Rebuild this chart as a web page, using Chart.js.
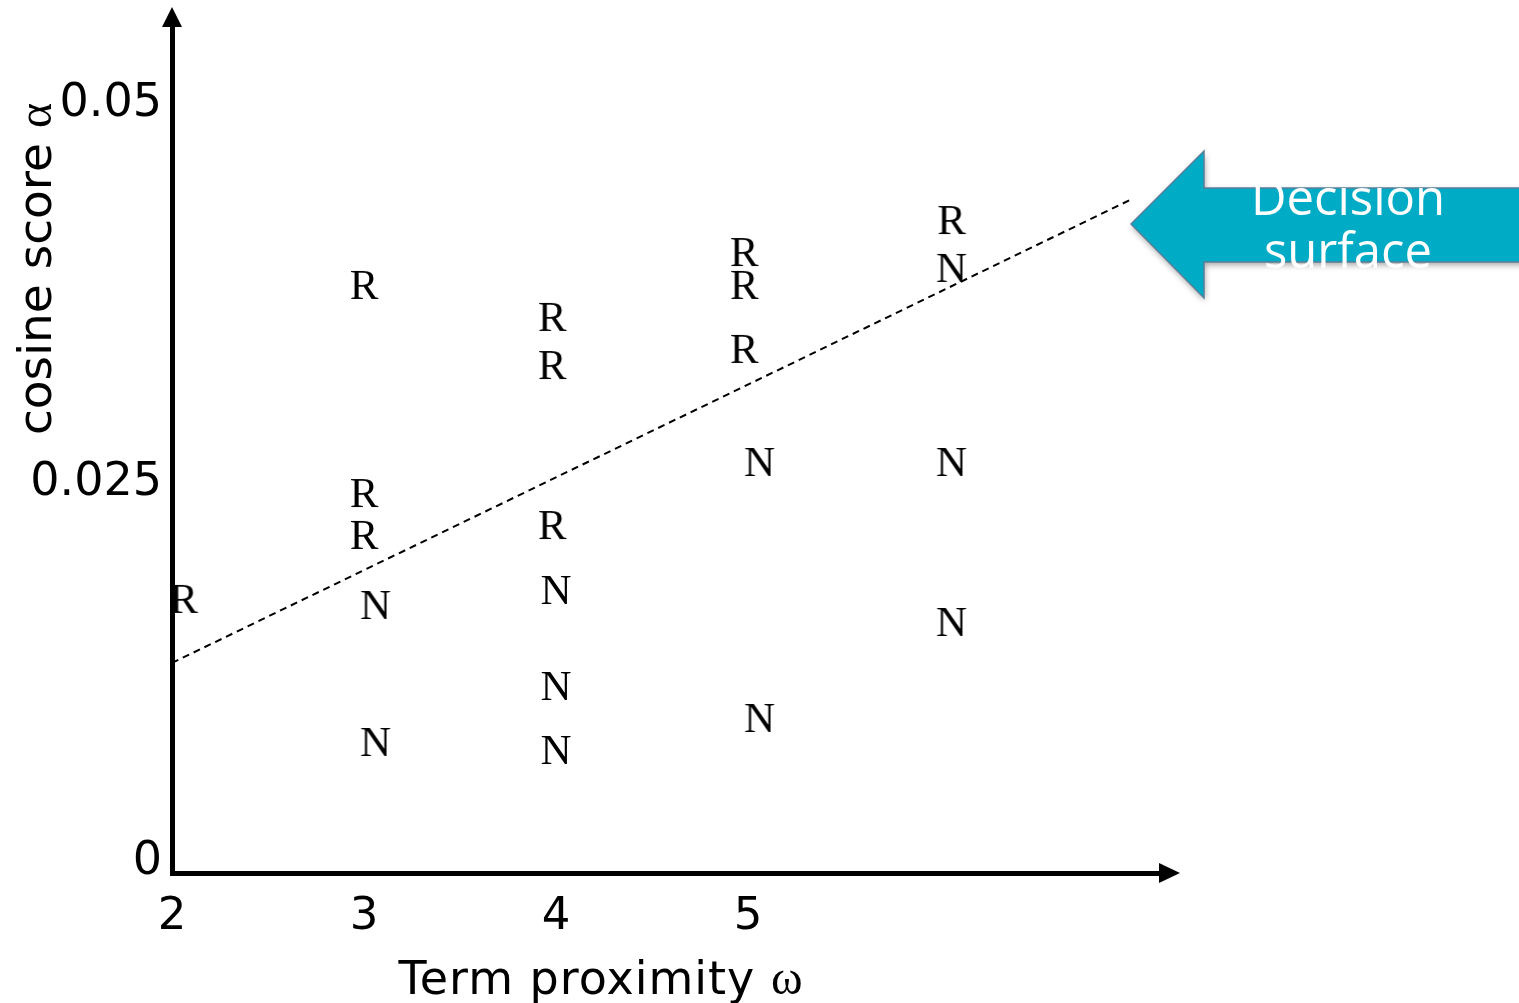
<!DOCTYPE html>
<html><head><meta charset="utf-8">
<script src="https://cdn.jsdelivr.net/npm/chart.js@4.4.0/dist/chart.umd.min.js"></script>
<style>html,body{margin:0;padding:0;background:#fff;overflow:hidden}#wrap{width:1519px;height:1003px}</style>
</head><body><div id="wrap"><canvas id="c" width="1519" height="1003"></canvas></div>
<script>
// ---- data ----
const xTickValues = [2, 3, 4, 5];
const yTickValues = [0, 0.025, 0.05];
const yTickLabels = ['0', '0.025', '0.05'];

const relevantX = [2.06, 3, 3, 3, 3.98, 3.98, 3.98, 4.98, 4.98, 4.98, 6.06];
const relevantY = [0.01737, 0.03807, 0.02435, 0.02159, 0.03596, 0.03279, 0.02224, 0.04024, 0.03807, 0.03385, 0.04235];

const nonRelevantX = [3.06, 3.06, 4.0, 4.0, 4.0, 5.06, 5.06, 6.06, 6.06, 6.06];
const nonRelevantY = [0.01697, 0.00794, 0.01796, 0.01163, 0.00741, 0.0264, 0.00952, 0.03919, 0.0264, 0.01585];

const surfaceX = [2, 6.99];
const surfaceY = [0.01315, 0.04367];

const xTitleText = 'Term proximity ';
const xTitleSymbol = 'ω';
const yTitleText = 'cosine score ';
const yTitleSymbol = 'α';
const calloutLines = ['Decision', 'surface'];

// ---- helpers ----
function zip(xs, ys) { return xs.map((x, i) => ({ x: x, y: ys[i] })); }

function letterImage(ch) {
  const s = 50;
  const c = document.createElement('canvas');
  c.width = s; c.height = s;
  const g = c.getContext('2d');
  g.font = '43px "Liberation Serif"';
  g.fillStyle = '#000';
  g.textAlign = 'center';
  g.textBaseline = 'alphabetic';
  g.fillText(ch, s / 2, s / 2 + 14);
  return c;
}

const SANS = '"DejaVu Sans", "Open Sans", sans-serif';
const CALLOUT = '"Open Sans", "DejaVu Sans", sans-serif';
const SERIF = '"Liberation Serif", "DejaVu Serif", serif';

const decorPlugin = {
  id: 'decor',
  afterDraw(chart) {
    const ctx = chart.ctx;
    const a = chart.chartArea;
    ctx.save();
    // axis arrowheads
    ctx.fillStyle = '#000';
    ctx.beginPath();
    ctx.moveTo(a.left, a.top - 19);
    ctx.lineTo(a.left - 10, a.top + 1);
    ctx.lineTo(a.left + 10, a.top + 1);
    ctx.closePath(); ctx.fill();
    ctx.beginPath();
    ctx.moveTo(a.right + 20, a.bottom);
    ctx.lineTo(a.right - 1, a.bottom - 10);
    ctx.lineTo(a.right - 1, a.bottom + 10);
    ctx.closePath(); ctx.fill();

    // x title
    ctx.textBaseline = 'alphabetic';
    ctx.font = '46px ' + SANS;
    try { ctx.letterSpacing = '1px'; } catch (e) {}
    const w1 = ctx.measureText(xTitleText).width;
    ctx.font = '48px ' + SERIF;
    const w2 = ctx.measureText(xTitleSymbol).width;
    let x0 = 601 - (w1 + w2) / 2;
    ctx.font = '46px ' + SANS;
    ctx.textAlign = 'left';
    ctx.fillText(xTitleText, x0, 994);
    ctx.font = '48px ' + SERIF;
    ctx.fillText(xTitleSymbol, x0 + w1, 994);
    try { ctx.letterSpacing = '0px'; } catch (e) {}

    // y title (rotated)
    ctx.save();
    ctx.translate(51, 269);
    ctx.rotate(-Math.PI / 2);
    ctx.font = '47px ' + SANS;
    const v1 = ctx.measureText(yTitleText).width;
    ctx.font = '48px ' + SERIF;
    const v2 = ctx.measureText(yTitleSymbol).width;
    const y0 = -(v1 + v2) / 2;
    ctx.font = '47px ' + SANS;
    ctx.fillText(yTitleText, y0, 0);
    ctx.font = '48px ' + SERIF;
    ctx.fillText(yTitleSymbol, y0 + v1, 0);
    ctx.restore();

    // callout arrow
    ctx.save();
    ctx.shadowColor = 'rgba(0,0,0,0.35)';
    ctx.shadowBlur = 6;
    ctx.shadowOffsetX = 1;
    ctx.shadowOffsetY = 3;
    ctx.beginPath();
    ctx.moveTo(1131, 224);
    ctx.lineTo(1204, 151);
    ctx.lineTo(1204, 188);
    ctx.lineTo(1530, 188);
    ctx.lineTo(1530, 262);
    ctx.lineTo(1204, 262);
    ctx.lineTo(1204, 298);
    ctx.closePath();
    ctx.fillStyle = '#00abc5';
    ctx.fill();
    ctx.shadowColor = 'transparent';
    ctx.lineWidth = 1.5;
    ctx.strokeStyle = '#5b7f98';
    ctx.stroke();
    ctx.restore();
    ctx.fillStyle = '#ffffff';
    ctx.font = '49px ' + CALLOUT;
    ctx.textAlign = 'center';
    ctx.textBaseline = 'alphabetic';
    ctx.fillText(calloutLines[0], 1348, 215);
    ctx.fillText(calloutLines[1], 1348, 268);
    ctx.restore();
  }
};

new Chart(document.getElementById('c'), {
  type: 'scatter',
  data: {
    datasets: [
      {
        type: 'line',
        label: 'Decision surface',
        data: zip(surfaceX, surfaceY),
        borderColor: '#000',
        borderWidth: 2,
        borderDash: [7, 5],
        pointRadius: 0,
        fill: false,
        clip: false
      },
      {
        label: 'R',
        data: zip(relevantX, relevantY),
        pointStyle: letterImage('R'),
        pointRadius: 20,
        clip: false
      },
      {
        label: 'N',
        data: zip(nonRelevantX, nonRelevantY),
        pointStyle: letterImage('N'),
        pointRadius: 20,
        clip: false
      }
    ]
  },
  options: {
    responsive: false,
    animation: false,
    events: [],
    layout: { padding: { top: 26, right: 359, left: 0, bottom: 0 } },
    plugins: { legend: { display: false }, tooltip: { enabled: false } },
    scales: {
      x: {
        type: 'linear',
        min: 2,
        max: 7.146,
        afterFit(s) { s.height = 130; s.paddingLeft = 0; s.paddingRight = 0; },
        afterBuildTicks(s) { s.ticks = xTickValues.map(v => ({ value: v })); },
        grid: { display: false, drawTicks: false },
        border: { display: true, color: '#000', width: 5 },
        ticks: {
          color: '#000',
          font: { family: SANS, size: 45 },
          padding: 17,
          maxRotation: 0,
          autoSkip: false,
          callback: (v) => String(v)
        }
      },
      y: {
        type: 'linear',
        min: -0.0007,
        max: 0.05514,
        afterFit(s) { s.width = 172; s.paddingTop = 0; s.paddingBottom = 0; },
        afterBuildTicks(s) { s.ticks = yTickValues.map(v => ({ value: v })); },
        grid: { display: false, drawTicks: false },
        border: { display: true, color: '#000', width: 5 },
        ticks: {
          color: '#000',
          font: { family: SANS, size: 46 },
          padding: 10,
          autoSkip: false,
          callback: (v, i) => yTickLabels[i]
        }
      }
    }
  },
  plugins: [decorPlugin]
});
</script>
</body></html>
